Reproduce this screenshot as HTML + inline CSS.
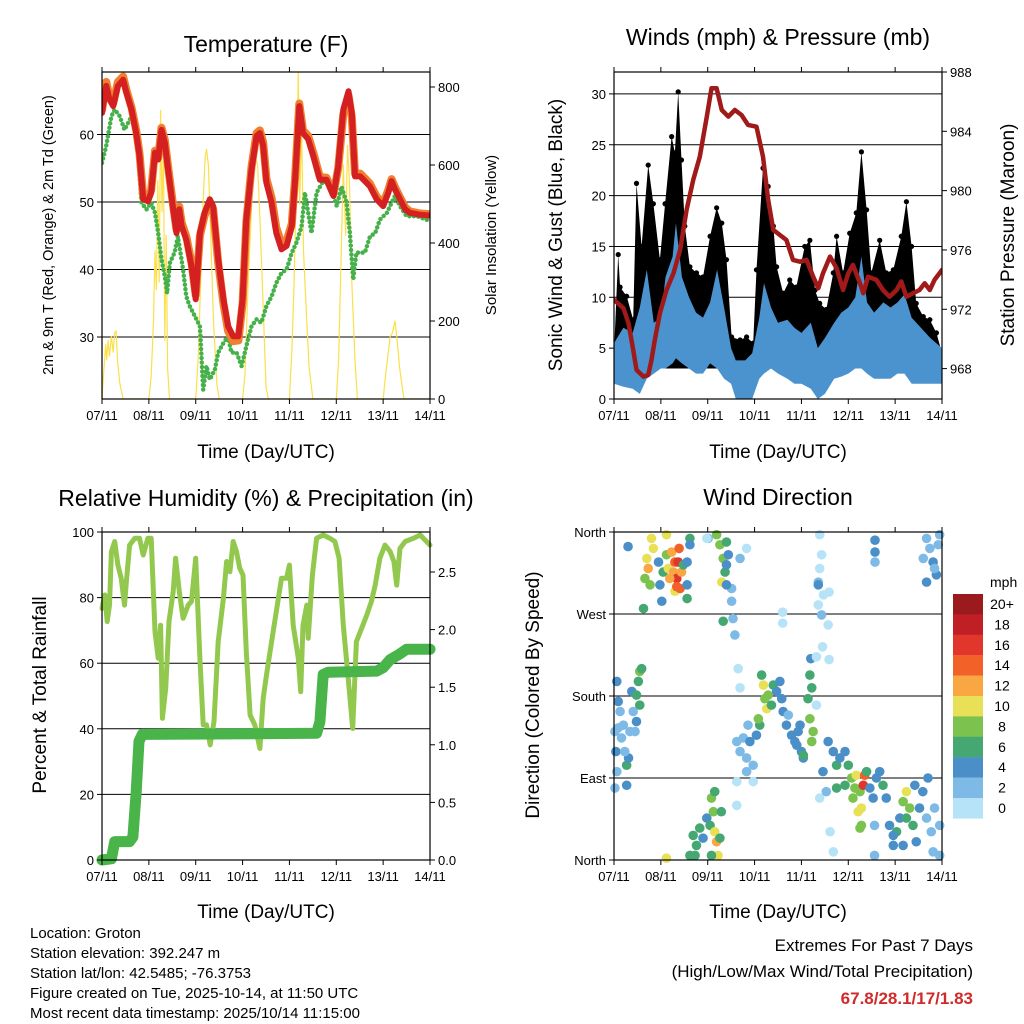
<!DOCTYPE html>
<html><head><meta charset="utf-8"><style>
html,body{margin:0;padding:0;background:#fff}
svg{display:block;font-family:"Liberation Sans",sans-serif}
</style></head><body>
<svg id="c" width="1024" height="1024" viewBox="0 0 1024 1024" xmlns="http://www.w3.org/2000/svg">
<defs>
<clipPath id="cp1"><rect x="102" y="72" width="328" height="327"/></clipPath>
<clipPath id="cp2"><rect x="614" y="72" width="328" height="327"/></clipPath>
<clipPath id="cp3"><rect x="96" y="526" width="340" height="340"/></clipPath>
<clipPath id="cp4"><rect x="608" y="526" width="340" height="340"/></clipPath>
</defs>
<text x="266" y="52" font-size="23" text-anchor="middle">Temperature (F)</text>
<text x="778" y="45" font-size="23" text-anchor="middle">Winds (mph) &amp; Pressure (mb)</text>
<text x="266" y="506" font-size="23" text-anchor="middle">Relative Humidity (%) &amp; Precipitation (in)</text>
<text x="778" y="505" font-size="23" text-anchor="middle">Wind Direction</text>
<text x="266" y="458" font-size="19" text-anchor="middle">Time (Day/UTC)</text>
<text x="778" y="458" font-size="19" text-anchor="middle">Time (Day/UTC)</text>
<text x="266" y="918" font-size="19" text-anchor="middle">Time (Day/UTC)</text>
<text x="778" y="918" font-size="19" text-anchor="middle">Time (Day/UTC)</text>
<text transform="translate(53,235) rotate(-90)" font-size="14.5" text-anchor="middle">2m &amp; 9m T (Red, Orange) &amp; 2m Td (Green)</text>
<text transform="translate(496,235) rotate(-90)" font-size="15" text-anchor="middle">Solar Insolation (Yellow)</text>
<text transform="translate(562,235) rotate(-90)" font-size="19" text-anchor="middle">Sonic Wind &amp; Gust (Blue, Black)</text>
<text transform="translate(1014,235) rotate(-90)" font-size="19" text-anchor="middle">Station Pressure (Maroon)</text>
<text transform="translate(46,695) rotate(-90)" font-size="19" text-anchor="middle">Percent &amp; Total Rainfall</text>
<text transform="translate(539,695) rotate(-90)" font-size="19" text-anchor="middle">Direction (Colored By Speed)</text>
<g font-size="15">
<text x="30" y="938">Location: Groton</text>
<text x="30" y="958">Station elevation: 392.247 m</text>
<text x="30" y="978">Station lat/lon: 42.5485; -76.3753</text>
<text x="30" y="998">Figure created on Tue, 2025-10-14, at 11:50 UTC</text>
<text x="30" y="1018">Most recent data timestamp: 2025/10/14 11:15:00</text>
</g>
<text x="973" y="951" font-size="17" text-anchor="end">Extremes For Past 7 Days</text>
<text x="973" y="977" font-size="17" text-anchor="end">(High/Low/Max Wind/Total Precipitation)</text>
<text x="973" y="1004" font-size="17" font-weight="bold" fill="#d02a2a" text-anchor="end">67.8/28.1/17/1.83</text>
</svg>
<script>
const dayLabels=["07/11","08/11","09/11","10/11","11/11","12/11","13/11","14/11"];
// Temperature
const tempT=[0,.09,.16,.24,.34,.45,.52,.63,.73,.80,.88,.98,1.05,1.13,1.20,1.27,1.34,1.41,1.52,1.59,1.65,1.70,1.80,1.91,2.00,2.09,2.19,2.30,2.37,2.48,2.59,2.69,2.80,2.91,3.00,3.08,3.19,3.30,3.37,3.44,3.51,3.62,3.72,3.83,3.94,4.05,4.12,4.21,4.29,4.40,4.51,4.65,4.79,4.94,5.04,5.15,5.26,5.33,5.40,5.51,5.61,5.72,5.86,6.00,6.11,6.18,6.25,6.36,6.47,6.57,6.79,7.00];
const temp2m=[63.2,67.2,65.2,64.2,67.2,68.1,66.2,63.7,60.2,56.8,50.4,50.1,51.4,57.3,56.3,60.7,58.8,54.8,48.9,45.4,48.9,46.4,44.4,40.5,35.6,45.4,48.4,50.4,49.4,41.5,35.6,31.6,30.1,30.1,35.6,47.4,54.8,59.8,60.2,58.3,52.8,49.9,45.4,43.0,43.5,46.4,53.3,64.2,60.2,59.3,56.8,53.3,53.3,50.9,55.3,63.7,66.4,63.2,53.8,53.8,53.1,52.3,50.4,49.4,51.4,53.1,51.9,50.4,48.9,48.4,48.1,48.0];
const temp9m=[63.6,67.8,65.6,64.6,67.8,68.6,66.6,64.0,60.6,57.2,50.8,50.4,51.8,57.6,56.6,61.0,59.2,55.2,49.4,45.9,49.3,46.9,44.9,41.0,36.2,45.0,48.0,50.0,49.0,41.0,35.0,30.9,29.4,29.5,35.0,47.0,55.2,60.2,60.6,58.8,53.4,50.6,46.2,43.8,44.2,46.8,53.6,64.6,60.6,59.8,57.3,53.7,53.6,51.2,55.0,63.0,65.8,62.6,54.2,54.2,53.5,52.7,50.8,49.8,51.8,53.4,52.2,50.7,49.2,48.6,48.3,48.2];
const tdT=[0,.09,.2,.27,.38,.48,.63,.70,.77,.84,.95,1.05,1.13,1.2,1.27,1.34,1.39,1.45,1.55,1.62,1.73,1.80,1.87,1.98,2.09,2.16,2.23,2.30,2.41,2.48,2.59,2.69,2.76,2.87,2.98,3.08,3.19,3.30,3.40,3.51,3.62,3.72,3.83,3.94,4.05,4.15,4.26,4.33,4.40,4.47,4.58,4.72,4.83,4.94,5.01,5.11,5.22,5.29,5.36,5.43,5.51,5.61,5.72,5.83,5.93,6.08,6.18,6.25,6.36,6.50,6.72,7.0];
const tdVals=[55.8,58.3,62.7,63.7,62.7,60.7,62.7,61.2,57.3,49.9,48.9,49.9,48.4,45.4,41.5,39.0,36.5,41.0,42.5,44.9,40.0,36.0,34.6,33.1,31.6,22.2,25.7,23.7,25.2,27.7,29.1,30.1,27.7,27.7,25.7,28.6,31.6,32.6,32.1,34.6,36.0,38.0,39.5,40.0,42.5,44.0,46.4,51.4,48.4,45.4,51.4,53.1,52.8,50.9,49.4,52.3,49.9,45.4,38.5,42.5,42.5,42.5,44.9,45.4,47.4,48.4,49.9,50.9,49.4,47.9,47.9,47.2];
const solarT=[0,.02,.05,.08,.1,.13,.16,.2,.24,.27,.3,.33,.38,.45,1.0,1.05,1.1,1.13,1.16,1.19,1.22,1.25,1.28,1.31,1.34,1.37,1.40,1.44,2.0,2.05,2.1,2.15,2.2,2.23,2.27,2.32,2.38,2.45,2.5,3.0,3.05,3.12,3.2,3.27,3.32,3.38,3.45,3.5,3.55,4.0,4.05,4.1,4.15,4.19,4.22,4.26,4.3,4.35,4.42,4.5,5.0,5.05,5.1,5.15,5.2,5.24,5.28,5.33,5.4,5.45,6.0,6.05,6.15,6.2,6.25,6.3,6.35,6.42,6.45,7.0];
const solarVals=[0,40,90,140,100,150,110,160,120,170,175,100,40,0,0,60,200,380,280,560,300,740,480,640,150,420,80,0,0,100,280,480,620,640,600,420,200,40,0,0,60,300,520,620,600,430,200,30,0,0,120,300,560,840,500,700,380,250,80,0,0,100,350,600,420,650,560,300,100,0,0,60,160,170,200,150,80,20,0,0];
// Winds
const presT=[0,.2,.31,.41,.48,.63,.73,.80,.87,.98,1.12,1.27,1.41,1.55,1.69,1.83,1.98,2.08,2.19,2.30,2.44,2.58,2.72,2.86,3.04,3.18,3.29,3.40,3.54,3.68,3.82,3.97,4.11,4.25,4.36,4.46,4.61,4.75,4.89,5.0,5.10,5.25,5.32,5.42,5.60,5.74,5.88,6.03,6.13,6.24,6.38,6.52,6.63,6.74,6.84,7.0];
const presVals=[972.63,972.07,971.06,969.26,967.91,967.46,967.57,968.58,969.93,971.73,973.30,974.43,976.0,978.70,980.72,982.29,984.99,986.9,986.9,985.44,984.99,985.44,985.1,984.43,984.31,982.29,979.37,977.35,977.01,976.67,975.33,975.21,975.33,974.2,973.42,974.43,975.55,974.76,973.30,974.43,974.99,973.75,973.08,974.20,973.98,973.30,972.85,973.30,973.87,972.85,973.08,973.30,973.75,973.30,973.98,974.65];
const windT=[0,.2,.4,.55,.7,.85,1.0,1.1,1.25,1.32,1.45,1.6,1.75,1.9,2.05,2.2,2.35,2.5,2.6,2.8,2.95,3.1,3.2,3.35,3.5,3.7,3.85,4.0,4.2,4.35,4.5,4.7,4.85,5.0,5.15,5.28,5.4,5.55,5.75,5.9,6.05,6.2,6.35,6.55,6.75,7.0];
const windHi=[5.5,7,6.5,9,12.7,7.5,8,12,14,17.3,12,10,8.5,8,9.5,12.7,9,5,3.8,3.8,4.5,8,11.4,9,7.5,7.8,7,6.5,7.5,5,6,7.5,8.5,9,10,14,9.5,8.5,9.5,9,9.5,10.3,8,7,6,5];
const windLo=[1.5,1.2,1,0.5,2,2.5,3,3,3.5,4,3.5,3,2.5,2.5,3.5,3,2,1.5,0,0,0,2,2.5,3,2.5,2,1.5,1.5,1,0,0.5,2,2.2,2.5,3,3,2.5,2,2,2,2.5,2.5,1.5,1.5,1.5,1.5];
const gustT=[0,.09,.13,.27,.41,.48,.59,.73,.84,.98,1.09,1.23,1.30,1.37,1.44,1.51,1.62,1.76,1.90,2.05,2.19,2.30,2.40,2.51,2.69,2.83,2.97,3.04,3.18,3.29,3.40,3.47,3.61,3.75,3.89,4.07,4.18,4.29,4.39,4.53,4.68,4.75,4.89,5.03,5.17,5.28,5.39,5.49,5.67,5.81,5.96,6.13,6.24,6.35,6.45,6.60,6.74,6.88,7.0];
const gustVals=[4.5,14.2,11.0,10.1,7.8,21.2,15.0,23.0,19.2,13.7,19.2,25.8,24.2,30.2,23.5,17.0,13.0,12.4,12.0,16.0,18.8,17.3,13.7,6.1,5.8,6.1,5.5,12.7,22.7,20.9,17.0,13.0,10.4,11.7,11.0,15.0,15.6,10.7,9.4,8.8,12.4,16.0,12.4,16.3,18.3,24.3,18.6,12.4,15.6,12.4,12.7,16.0,19.4,15.0,9.4,8.1,7.8,6.5,4.5];
// RH & precip
const rhT=[0,.06,.11,.16,.2,.27,.34,.41,.48,.52,.59,.70,.80,.88,.98,1.05,1.13,1.20,1.25,1.29,1.36,1.43,1.52,1.57,1.65,1.73,1.84,1.91,2.0,2.09,2.16,2.23,2.31,2.39,2.48,2.59,2.66,2.73,2.80,2.87,2.94,3.01,3.08,3.16,3.26,3.37,3.44,3.51,3.62,3.73,3.83,3.94,4.0,4.08,4.19,4.24,4.29,4.37,4.40,4.49,4.58,4.72,4.86,4.97,5.06,5.15,5.26,5.35,5.43,5.54,5.65,5.75,5.83,5.93,6.04,6.15,6.23,6.29,6.36,6.47,6.65,6.79,7.0];
const rhVals=[76.7,80.8,72.7,77.7,94.0,97.1,89.9,85.9,77.7,84.9,96.0,98.1,98.1,93.0,98.1,98.1,69.6,61.5,71.6,43.2,52.3,72.7,81.8,92.0,81.8,73.7,77.7,78.8,92.0,61.5,41.2,41.2,35.1,42.2,66.6,79.8,91.0,87.9,97.1,94.0,88.9,86.9,63.5,44.2,41.2,34.0,49.3,56.4,66.6,76.7,85.9,85.9,89.9,71.6,61.5,51.3,71.6,77.7,67.6,86.9,98.1,99.1,98.1,97.1,92.0,71.6,54.4,40.1,66.6,70.6,74.7,78.8,83.8,92.0,96.0,94.0,91.0,83.8,95.0,97.1,98.1,99.1,96.0];
const pcpT=[0,.2,.27,.59,.66,.73,.79,.86,4.58,4.65,4.72,4.83,5.86,6.0,6.15,6.36,6.5,7.0];
const pcpVals=[0,0.01,0.16,0.16,0.2,0.59,1.03,1.09,1.10,1.2,1.61,1.63,1.64,1.67,1.74,1.79,1.83,1.83];
// Wind direction
const dirT=[.02,.06,.09,.13,.04,.06,.02,.2,.27,.34,.31,.38,.41,.45,.48,.52,.55,.59,.55,.27,.23,.16,.48,.09,
.63,.66,.70,.73,.80,.84,.77,.95,.98,1.02,1.05,1.12,1.12,1.16,1.23,1.27,1.30,1.34,1.37,1.39,1.30,1.44,1.41,1.48,1.56,1.56,1.62,1.56,.3,1.19,1.34,
1.62,1.69,1.76,1.83,1.73,1.9,1.98,2.05,2.08,2.12,2.15,2.19,2.22,2.26,2.08,1.12,2.29,2.15,
2.19,2.26,2.33,2.37,2.40,2.30,2.44,2.40,2.51,2.54,2.58,2.51,2.69,2.83,2.01,1.62,2.33,2.40,
2.65,2.69,2.62,2.69,2.76,2.83,2.9,2.97,2.86,2.62,2.62,2.83,3.04,2.97,
3.15,3.19,3.22,3.26,3.29,3.36,3.4,3.47,3.54,3.11,3.08,3.61,3.58,
3.68,3.79,3.86,3.93,4.0,4.04,3.97,3.72,3.9,
4.18,4.22,4.14,4.18,4.25,4.22,4.04,4.2,
4.39,4.43,4.39,4.36,4.47,4.36,4.43,4.59,4.57,4.45,4.59,4.32,4.32,4.36,
4.39,4.46,4.57,4.68,4.75,4.82,4.93,5.0,5.07,5.14,5.17,5.25,5.32,5.35,5.28,5.28,5.39,5.46,5.53,5.6,5.67,5.74,5.81,5.56,5.56,4.68,4.61,4.53,4.75,4.93,5.1,5.21,5.25,
5.88,5.96,6.03,6.1,6.17,6.24,6.31,6.38,6.45,6.24,6.52,6.59,6.7,6.67,6.77,6.84,6.95,6.95,5.96,6.17,6.81,6.42,
6.6,6.67,6.74,6.81,6.88,6.92,6.95,6.67,6.84,5.57,5.57,5.57,1.98,3.6,3.6];
const dirDeg=[141,196,174,163,119,97,79,148,104,141,112,185,163,141,181,196,207,210,170,82,119,134,152,145,
276,309,331,320,353,342,302,327,302,284,316,357,335,320,338,316,327,309,327,342,295,316,298,324,302,327,353,287,344,309,300,
5,27,16,35,5,24,46,38,68,53,31,20,5,24,5,2,53,75,
357,346,331,316,349,305,335,324,284,265,247,298,331,342,353,346,262,302,
210,189,130,119,134,112,130,104,148,86,60,97,137,86,
203,192,177,166,181,170,192,185,196,148,155,163,177,
148,137,130,141,119,112,148,159,126,
203,189,177,155,141,130,115,221,
357,335,320,305,291,280,269,294,258,234,220,223,170,302,
68,97,130,119,104,112,119,104,90,79,93,75,82,93,57,38,97,79,68,90,97,82,68,38,5,9,31,75,79,82,68,53,35,
38,16,31,46,64,75,57,38,20,46,57,75,90,46,31,57,38,5,27,16,9,82,
331,353,342,327,313,346,357,305,320,351,327,338,353,272,260];
const dirSpd=[2,4,4,2,4,2,2,2,6,2,4,4,2,2,6,6,8,6,6,4,2,2,4,2,
6,8,10,12,10,10,8,4,4,4,6,10,8,10,12,12,14,16,16,14,10,12,14,6,4,4,6,6,4,12,14,
6,6,6,6,6,4,4,6,8,8,10,12,10,6,6,10,6,6,
8,8,8,6,6,10,4,4,2,2,2,2,2,0,2,4,6,4,
0,0,2,2,2,2,4,2,2,0,0,2,4,0,
6,10,8,10,8,6,6,4,4,6,8,4,4,
4,4,4,4,4,4,4,2,4,
6,6,6,8,8,8,6,4,
0,0,0,2,0,0,2,0,0,0,0,0,0,4,
0,4,4,4,6,4,4,6,8,8,10,8,16,14,10,8,6,4,4,4,4,6,4,2,2,0,0,2,6,6,8,10,8,
4,4,6,4,8,10,8,6,4,6,4,4,4,2,2,2,2,2,4,4,2,4,
2,2,2,4,4,2,2,4,2,4,2,4,0,0,0];
const spdColors=["#b7e3f8","#7dbbe6","#4a8fc7","#45a772","#7cc24e","#e8e158","#f8a743","#f26128","#e0362b","#c11f26","#9a1a1e"];
const spdLabels=["0","2","4","6","8","10","12","14","16","18","20+"];
const tempTicks=[30,40,50,60], solarTicks=[0,200,400,600,800], windTicks=[0,5,10,15,20,25,30], presTicks=[968,972,976,980,984,988];
const rhTicks=[0,20,40,60,80,100], pcpTicks=[0,0.5,1.0,1.5,2.0,2.5], dirTicks=[0,90,180,270,360], dirNames=["North","East","South","West","North"];

const svg=document.getElementById('c');
const NS="http://www.w3.org/2000/svg";
function mk(tag,at,parent){const e=document.createElementNS(NS,tag);for(const k in at)e.setAttribute(k,at[k]);(parent||svg).appendChild(e);return e;}
const xL=t=>102+t*46.86, xR=t=>614+t*46.86;
const yTemp=v=>337-(v-30)*6.75, ySolar=v=>399-v*0.39;
const yWind=v=>399-v*10.17, yPres=p=>72+(988-p)*14.83;
const yRH=v=>860-v*3.28, yPcp=v=>860-v*115.2, yDir=d=>860-d*0.9111;

function frame(x0,y0,x1,y1,name){
  const g=mk('g',{});
  
  
  for(let i=0;i<8;i++){const x=x0+i*(x1-x0)/7;
    mk('line',{x1:x,y1:y1,x2:x,y2:y1+5,stroke:'#000','stroke-width':1},g);
    mk('line',{x1:x,y1:y0,x2:x,y2:y0-5,stroke:'#000','stroke-width':1},g);
    const tx=mk('text',{x:x,y:y1+21,'font-size':13,'text-anchor':'middle'},g);tx.textContent=dayLabels[i];
    
    
  }
  return g;
}
function yAxis(g,ticks,fy,x,side,labels){
  ticks.forEach((v,i)=>{const y=fy(v);
    mk('line',{x1:x,y1:y,x2:x+(side<0?-5:5),y2:y,stroke:'#000','stroke-width':1},g);
    const t=mk('text',{x:x+(side<0?-8:8),y:y+5,'font-size':13,'text-anchor':side<0?'end':'start'},g);
    t.textContent=labels?labels[i]:v;
    
    
  });
}
function grid(ticks,fy,x0,x1){ticks.forEach(v=>{const l=mk('line',{x1:x0,y1:fy(v),x2:x1,y2:fy(v),stroke:'#000','stroke-width':1});
  
  });}
function path(ts,vs,fx,fy,attrs,clip,name){
  const d=ts.map((t,i)=>(i?'L':'M')+fx(t).toFixed(1)+','+fy(vs[i]).toFixed(1)).join('');
  const p=mk('path',Object.assign({d:d,fill:'none','clip-path':'url(#'+clip+')','stroke-linejoin':'round','stroke-linecap':'round'},attrs));
  
  
  return p;
}
function band(ts,hi,lo,fx,fy,fill,clip,name){
  let d='M'+ts.map((t,i)=>fx(t).toFixed(1)+','+fy(hi[i]).toFixed(1)).join('L');
  for(let i=ts.length-1;i>=0;i--)d+='L'+fx(ts[i]).toFixed(1)+','+fy(lo[i]).toFixed(1);
  const p=mk('path',{d:d+'Z',fill:fill,'clip-path':'url(#'+clip+')'});
  
  
  return p;
}

// Panel 1
grid(tempTicks,yTemp,102,430);
path(solarT,solarVals,xL,ySolar,{stroke:'#fbe04a','stroke-width':1.2},'cp1','solar-line');
path(tdT,tdVals,xL,yTemp,{stroke:'#46b04a','stroke-width':4.5,'stroke-dasharray':'0 4.5'},'cp1','dewpoint-line');
path(tempT,temp9m,xL,yTemp,{stroke:'#f08030','stroke-width':8},'cp1','temp-9m-line');
path(tempT,temp2m,xL,yTemp,{stroke:'#d42020','stroke-width':6},'cp1','temp-2m-line');
let g1=frame(102,72,430,399,'temperature');
mk('rect',{x:102,y:72,width:328,height:327,fill:'none',stroke:'#000','stroke-width':1.2},g1);
yAxis(g1,tempTicks,yTemp,102,-1);
yAxis(g1,solarTicks,ySolar,430,1);

// Panel 2
grid(windTicks.slice(1),yWind,614,942);
band(gustT,gustVals,gustT.map(()=>3),xR,yWind,'#000','cp2','gust-band');
gustT.forEach((t,i)=>{const c=mk('circle',{cx:xR(t),cy:yWind(gustVals[i]),r:2.6,fill:'#000','clip-path':'url(#cp2)'});
  
  });
band(windT,windHi,windLo,xR,yWind,'#4b93cf','cp2','wind-speed-band');
path(presT,presVals,xR,yPres,{stroke:'#a01a1a','stroke-width':4.5},'cp2','pressure-line');
let g2=frame(614,72,942,399,'winds');
mk('rect',{x:614,y:72,width:328,height:327,fill:'none',stroke:'#000','stroke-width':1.2},g2);
yAxis(g2,windTicks,yWind,614,-1);
yAxis(g2,presTicks,yPres,942,1);

// Panel 3
grid([20,40,60,80],yRH,102,430);
path(rhT,rhVals,xL,yRH,{stroke:'#93c84e','stroke-width':5},'cp3','rh-line');
path(pcpT,pcpVals,xL,yPcp,{stroke:'#48b449','stroke-width':11},'cp3','precip-line');
let g3=frame(102,532,430,860,'humidity');
mk('rect',{x:102,y:532,width:328,height:328,fill:'none',stroke:'#000','stroke-width':1.2},g3);
yAxis(g3,rhTicks,yRH,102,-1);
yAxis(g3,pcpTicks,yPcp,430,1,["0.0","0.5","1.0","1.5","2.0","2.5"]);

// Panel 4
grid([90,180,270],yDir,614,942);
dirT.forEach((t,i)=>{const k=Math.min(10,Math.floor(dirSpd[i]/2));
  const c=mk('circle',{cx:xR(t),cy:yDir(dirDeg[i]),r:4.8,fill:spdColors[k],'clip-path':'url(#cp4)'});
  
  });
let g4=frame(614,532,942,860,'direction');
mk('rect',{x:614,y:532,width:328,height:328,fill:'none',stroke:'#000','stroke-width':1.2},g4);
yAxis(g4,dirTicks,yDir,614,-1,dirNames);

// colorbar
const cb=mk('g',{});


const mt=mk('text',{x:990,y:587,'font-size':14},cb);mt.textContent='mph';
for(let i=0;i<11;i++){const k=10-i,y=594+i*20.4;
  mk('rect',{x:953,y:y,width:30,height:20.6,fill:spdColors[k]},cb);
  const t=mk('text',{x:1002,y:y+15,'font-size':14,'text-anchor':'middle'},cb);t.textContent=spdLabels[k];
}
</script>
</body></html>
